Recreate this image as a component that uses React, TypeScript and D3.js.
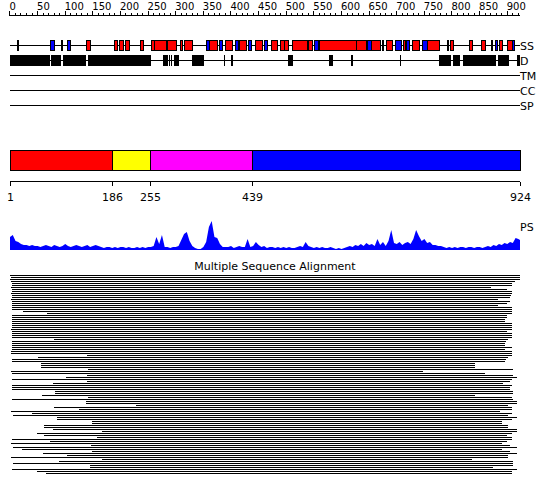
import React from 'react';
import * as d3 from 'd3';

const SEQ_LENGTH = 924;
const RULER_TICKS = [0, 50, 100, 150, 200, 250, 300, 350, 400, 450, 500, 550, 600, 650, 700, 750, 800, 850, 900];
const TRACKS = ['SS', 'D', 'TM', 'CC', 'SP'];

const HELICES: [number, number][] = [
  [14, 16], [94, 96], [138, 146], [190, 194], [198, 205], [209, 216], [237, 241], [256, 262], [262, 283],
  [286, 301], [309, 312], [316, 331], [361, 375], [390, 402], [415, 428], [444, 457], [473, 484], [490, 497],
  [497, 505], [511, 539], [541, 547], [561, 628], [628, 646], [654, 671], [674, 676], [682, 693], [713, 716],
  [729, 742], [756, 777], [791, 794], [797, 803], [832, 838], [853, 861], [872, 874], [886, 892], [901, 909],
];
const STRANDS: [number, number][] = [
  [73, 80], [104, 109], [355, 361], [379, 385], [408, 413], [432, 438], [461, 467], [552, 558], [648, 654],
  [698, 708], [718, 724], [747, 756], [879, 882], [909, 914],
];
const DISORDER: [number, number][] = [
  [1, 73], [76, 94], [97, 138], [143, 257], [277, 287], [289, 290], [292, 293], [297, 307], [331, 352],
  [388, 390], [401, 404], [505, 514], [578, 585], [619, 621], [706, 707], [778, 799], [802, 815], [820, 880],
  [884, 904], [918, 924],
];

const DOMAIN_BOUNDS = [1, 186, 255, 439, 924];
const DOMAIN_COLORS = ['#ff0000', '#ffff00', '#ff00ff', '#0000ff'];

const PS_STEP = 5;
const PS_SCORES = [
  13, 15, 9, 8, 6, 5, 5, 4, 5, 4, 4,
  3, 4, 5, 4, 3, 5, 4, 3, 4, 6, 4, 3, 4, 5, 4, 3, 4, 5, 3, 4, 5, 4,
  3, 2, 3, 3, 2, 3, 2, 3, 3, 2, 3, 2, 2, 3, 2, 3, 2, 3, 3, 4,
  13, 6, 15, 3,
  3, 2, 3, 3, 4,
  10, 16, 18, 9, 4, 2,
  1, 1, 3,
  8, 23, 29, 13, 12, 6, 3,
  3, 3, 4, 2, 3, 4, 3, 3,
  11, 3, 4, 8, 5, 3, 4, 2, 3,
  3, 2, 3, 2, 3, 2, 3, 2, 2, 3, 4, 3,
  8, 4, 3,
  2, 3, 2, 3, 2, 2, 3, 2, 1, 2, 1, 2,
  3, 4, 3, 5, 4, 6, 4, 7, 5, 6, 4,
  11, 5, 8, 4, 9, 20, 7, 6, 8, 5, 7, 8, 6, 11, 20, 14, 9, 11, 7, 8, 5, 5, 4, 4, 3,
  2, 3, 2, 3, 2, 3, 3, 2, 3, 3, 2, 3, 3, 2,
  3, 4, 3, 5, 4, 6, 5, 7, 6, 8, 7, 12, 11,
];
const PS_LAST = 10;

const MSA_START = [
  1, 3, 1, 3, 5, 5, 3, 5, 5, 3, 5, 5, 3, 5, 5, 5, 5, 5, 25, 68,
  5, 5, 5, 5, 5, 5, 5, 3, 5, 5, 5, 5, 81, 5, 5, 5, 5, 5, 3, 3,
  140, 52, 5, 5, 57, 57, 57, 142, 3, 5,
  140, 102, 5, 140, 79, 5, 5, 5, 82, 82, 59, 142, 5, 139, 139, 229, 81, 126, 3, 41,
  6, 86, 86, 149, 149, 63, 63, 79, 168, 50, 63, 158, 5, 73, 3, 148, 6, 23, 149, 61,
  104, 3, 168, 90, 6, 146, 146, 5, 50, 66,
];
const MSA_END = [
  924, 924, 924, 915, 909, 909, 871, 900, 910, 909, 908, 906, 885, 906, 900, 884, 909, 909, 909, 909,
  900, 900, 897, 897, 909, 909, 909, 909, 900, 909, 909, 909, 903, 899, 897, 897, 909, 897, 909, 909,
  909, 903, 899, 897, 843, 843, 843, 911, 748, 861,
  911, 918, 909, 906, 893, 909, 906, 906, 912, 912, 843, 909, 912, 918, 918, 903, 909, 909, 888, 909,
  903, 918, 909, 891, 891, 903, 903, 918, 918, 909, 900, 909, 909, 900, 891, 906, 918, 891, 906, 918,
  903, 903, 837, 911, 911, 911, 875, 918, 909, 909,
];

const FONT = 'DejaVu Sans';

export default function App() {
  const x = d3.scaleLinear().domain([1, SEQ_LENGTH]).range([10, 520]);
  const px = (r: number) => Math.round(x(r));
  const trackY = d3.scalePoint<string>().domain(TRACKS).range([45, 105]);

  const psData = PS_SCORES.map((v, i) => ({ r: 1 + i * PS_STEP, v }));
  psData.push({ r: SEQ_LENGTH, v: PS_LAST });
  const yPS = d3.scaleLinear().domain([0, 30]).range([250, 220]);
  const area = d3.area<{ r: number; v: number }>()
    .x((d) => x(d.r))
    .y0(yPS(0))
    .y1((d) => yPS(d.v));

  const minorTicks = d3.range(0, SEQ_LENGTH + 1, 10);
  const msaY = d3.scaleLinear().domain([0, MSA_START.length - 1]).range([275, 275 + 2 * (MSA_START.length - 1)]);

  const ssY = trackY('SS')!;
  const dY = trackY('D')!;

  return (
    <svg width={550} height={495} style={{ position: 'absolute', left: 0, top: 0, background: '#fff' }}
      fontFamily={FONT}>
      <rect x={0} y={0} width={550} height={495} fill="#fff" />
      {/* ruler */}
      <g shapeRendering="crispEdges">
        <line x1={10} x2={520} y1={15.5} y2={15.5} stroke="#000" />
        {minorTicks.map((t) => (
          <line key={t} x1={Math.round(x(t)) + 0.5} x2={Math.round(x(t)) + 0.5}
            y1={t % 50 === 0 ? 11 : 12.5} y2={15.5} stroke="#000" />
        ))}
      </g>
      {RULER_TICKS.map((t) => (
        <text key={t} x={x(t)} y={10} fontSize={10} fill="#000">{t}</text>
      ))}

      {/* tracks */}
      <g shapeRendering="crispEdges">
        {TRACKS.map((t) => (
          <line key={t} x1={10} x2={520} y1={trackY(t)! + 0.5} y2={trackY(t)! + 0.5} stroke="#000" />
        ))}
        {DISORDER.map(([s, e], i) => (
          <rect key={'d' + i} x={px(s)} y={dY - 5} width={Math.max(1, px(e) - px(s))} height={11} fill="#000" />
        ))}
        {HELICES.map(([s, e], i) => (
          <rect key={'h' + i} x={px(s) + 0.5} y={ssY - 4.5} width={Math.max(1, px(e) - px(s))} height={10}
            fill="#ff0000" stroke="#000" />
        ))}
        {STRANDS.map(([s, e], i) => (
          <rect key={'e' + i} x={px(s) + 0.5} y={ssY - 4.5} width={Math.max(1, px(e) - px(s))} height={10}
            fill="#0000ff" stroke="#000" />
        ))}
      </g>
      {TRACKS.map((t) => (
        <text key={t} x={520} y={trackY(t)! + 4.5} fontSize={11} fill="#000">{t}</text>
      ))}

      {/* domains */}
      <g shapeRendering="crispEdges">
        {DOMAIN_COLORS.map((c, i) => (
          <rect key={i} x={px(DOMAIN_BOUNDS[i]) + 0.5} y={150.5} width={px(DOMAIN_BOUNDS[i + 1]) - px(DOMAIN_BOUNDS[i])}
            height={20} fill={c} stroke="#000" />
        ))}
        <line x1={10} x2={520} y1={181.5} y2={181.5} stroke="#000" />
        {DOMAIN_BOUNDS.map((b) => (
          <line key={b} x1={px(b) + 0.5} x2={px(b) + 0.5} y1={181.5} y2={186} stroke="#000" />
        ))}
      </g>
      {DOMAIN_BOUNDS.map((b) => (
        <text key={b} x={px(b) + 0.5} y={201} fontSize={11} textAnchor="middle" fill="#000">{b}</text>
      ))}

      {/* PS */}
      <path d={area(psData) ?? ''} fill="#0000ff" />
      <text x={520} y={231} fontSize={11} fill="#000">PS</text>

      {/* MSA */}
      <text x={275} y={270} fontSize={11} textAnchor="middle" fill="#000">Multiple Sequence Alignment</text>
      <g shapeRendering="crispEdges">
        {MSA_START.map((s, i) => (
          <rect key={i} x={px(s)} y={msaY(i)} width={px(MSA_END[i]) - px(s)} height={1} fill="#000" />
        ))}
      </g>
    </svg>
  );
}
